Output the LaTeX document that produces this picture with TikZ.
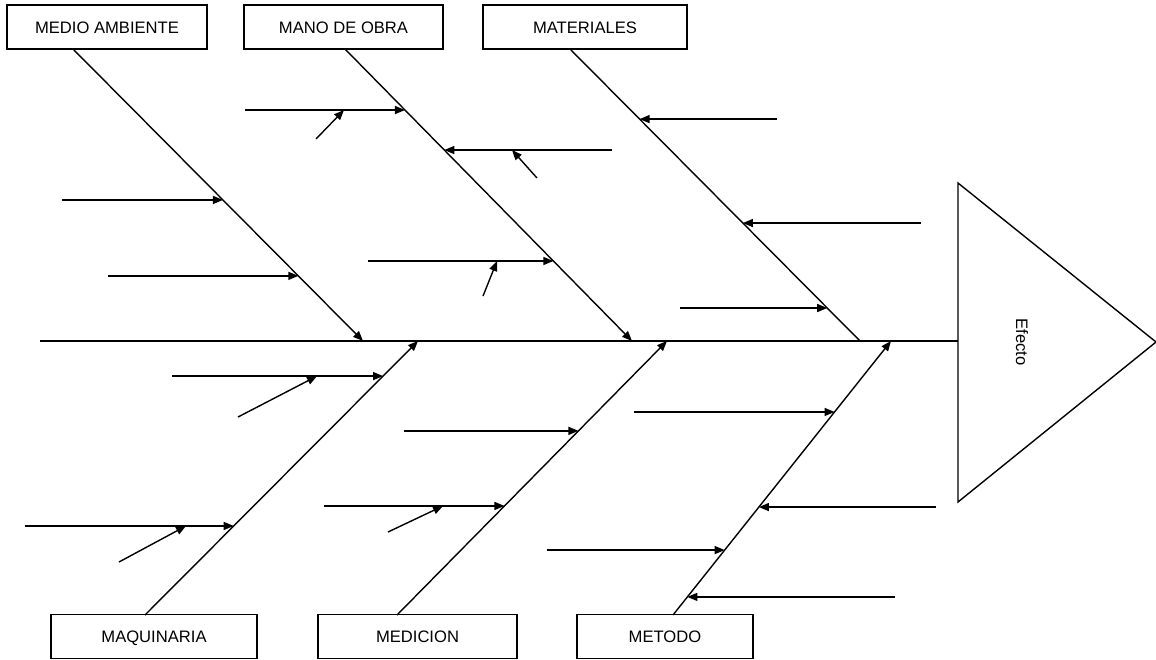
\documentclass[tikz,border=0pt]{standalone}
\usepackage{fontspec}
\setmainfont{Liberation Sans}
\usetikzlibrary{arrows.meta,positioning}

\tikzset{
  caja/.style={draw, line width=0.7pt, minimum width=100pt, minimum height=22pt,
    inner sep=0pt, text height=6pt, text depth=0pt, font=\fontsize{8.3}{10}\selectfont},
  espina/.style={line width=0.7pt},
  flecha/.style={line width=0.7pt, -{Triangle[length=5pt,width=4pt]}},
}

\begin{document}
\begin{tikzpicture}[x=0.5pt,y=-0.5pt]
    \useasboundingbox (0,0) rectangle (1156,659);
    % cajas
    \node[caja] (medio) at (107,27) {MEDIO AMBIENTE};
    \node[caja, minimum width=99.5pt] (mano) at (343.5,27) {MANO DE OBRA};
    \node[caja, minimum width=102pt] (mater) at (585,27) {MATERIALES};
    \node[caja, minimum width=103pt] (maqui) at (154,636.5) {MAQUINARIA};
    \node[caja, minimum width=99.5pt] (medic) at (417.5,636.5) {MEDICION};
    \node[caja, minimum width=88pt] (metodo) at (665,636.5) {METODO};
    % espina y efecto
    \coordinate (cola) at (40,341);
    \coordinate (cabeza) at (958,341);
    \draw[espina] (958,183) -- (1156,342) -- (958,502) -- cycle;
    \node[rotate=-90, font=\fontsize{8.3}{10}\selectfont] (efecto) at (1022,342) {Efecto};
    \draw[espina] (cola) -- (cabeza);
    % medio ambiente
    \coordinate (me0) at (73,49);
    \coordinate (me1) at (363,341);
    \draw[flecha] (me0) -- coordinate[pos=0.517] (mea) coordinate[pos=0.777] (meb) (me1);
    \draw[flecha] (62,0 |- mea) -- (mea);
    \draw[flecha] (108,0 |- meb) -- (meb);
    % mano de obra
    \coordinate (mo0) at (345,49);
    \coordinate (mo1) at (632,341);
    \draw[flecha] (mo0) -- coordinate[pos=0.209] (moa) coordinate[pos=0.346] (mob)
        coordinate[pos=0.726] (moc) (mo1);
    \draw[flecha] (245,0 |- moa) -- (moa);
    \draw[flecha] (612,0 |- mob) -- (mob);
    \draw[flecha] (368,0 |- moc) -- (moc);
    \coordinate (moa0) at (316,139);
    \coordinate (mob0) at (537,178);
    \coordinate (moc0) at (483,296);
    \draw[flecha] (moa0) -- (344,0 |- moa);
    \draw[flecha] (mob0) -- (512,0 |- mob);
    \draw[flecha] (moc0) -- (497,0 |- moc);
    % materiales
    \coordinate (ma0) at (570,49);
    \coordinate (ma1) at (860,341);
    \draw[espina] (ma0) -- coordinate[pos=0.240] (maa) coordinate[pos=0.596] (mab)
        coordinate[pos=0.887] (mac) (ma1);
    \draw[flecha] (777,0 |- maa) -- (maa);
    \draw[flecha] (921,0 |- mab) -- (mab);
    \draw[flecha] (680,0 |- mac) -- (mac);
    % maquinaria
    \coordinate (mq0) at (145,615);
    \coordinate (mq1) at (418,341);
    \draw[flecha] (mq0) -- coordinate[pos=0.872] (mqa) coordinate[pos=0.325] (mqb) (mq1);
    \draw[flecha] (172,0 |- mqa) -- (mqa);
    \draw[flecha] (25,0 |- mqb) -- (mqb);
    \coordinate (mqa0) at (238,417);
    \coordinate (mqb0) at (119,562);
    \draw[flecha] (mqa0) -- (317,0 |- mqa);
    \draw[flecha] (mqb0) -- (186,0 |- mqb);
    % medicion
    \coordinate (md0) at (397,615);
    \coordinate (md1) at (667,341);
    \draw[flecha] (md0) -- coordinate[pos=0.672] (mda) coordinate[pos=0.398] (mdb) (md1);
    \draw[flecha] (404,0 |- mda) -- (mda);
    \draw[flecha] (324,0 |- mdb) -- (mdb);
    \coordinate (mdb0) at (388,532);
    \draw[flecha] (mdb0) -- (443,0 |- mdb);
    % metodo
    \coordinate (mt0) at (673,615);
    \coordinate (mt1) at (891,341);
    \draw[flecha] (mt0) -- coordinate[pos=0.741] (mta) coordinate[pos=0.394] (mtb)
        coordinate[pos=0.237] (mtc) coordinate[pos=0.066] (mtd) (mt1);
    \draw[flecha] (634,0 |- mta) -- (mta);
    \draw[flecha] (936,0 |- mtb) -- (mtb);
    \draw[flecha] (547,0 |- mtc) -- (mtc);
    \draw[flecha] (895,0 |- mtd) -- (mtd);
\end{tikzpicture}
\end{document}
